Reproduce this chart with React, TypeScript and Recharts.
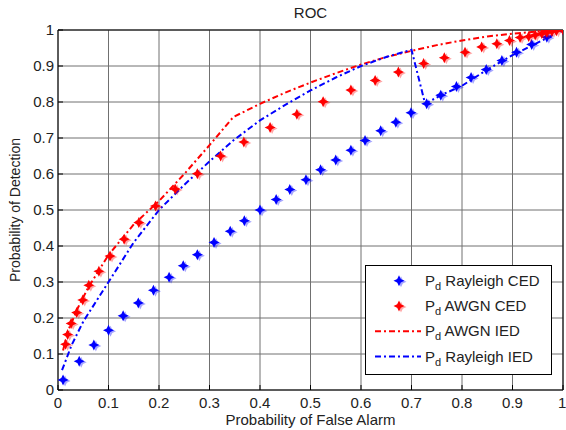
import React from 'react'
import {
  ComposedChart,
  Line,
  Scatter,
  XAxis,
  YAxis,
  CartesianGrid,
  ReferenceLine,
  Legend,
} from 'recharts'

const ticks = [0, 0.1, 0.2, 0.3, 0.4, 0.5, 0.6, 0.7, 0.8, 0.9, 1]
const tickLabels = ['0', '0.1', '0.2', '0.3', '0.4', '0.5', '0.6', '0.7', '0.8', '0.9', '1']

const rayleighCedX = [0.01, 0.042, 0.071, 0.1, 0.129, 0.159, 0.189, 0.22, 0.248, 0.276, 0.309, 0.341, 0.369, 0.4, 0.432, 0.459, 0.491, 0.52, 0.55, 0.58, 0.608, 0.639, 0.669, 0.699, 0.73, 0.758, 0.789, 0.818, 0.848, 0.879, 0.908, 0.938, 0.968, 1.0]
const rayleighCedY = [0.028, 0.08, 0.125, 0.166, 0.206, 0.242, 0.277, 0.313, 0.345, 0.376, 0.41, 0.441, 0.47, 0.5, 0.529, 0.557, 0.584, 0.612, 0.639, 0.666, 0.693, 0.72, 0.744, 0.77, 0.795, 0.819, 0.843, 0.868, 0.89, 0.915, 0.938, 0.96, 0.98, 1.0]

const awgnCedX = [0.015, 0.019, 0.026, 0.037, 0.049, 0.061, 0.081, 0.103, 0.131, 0.16, 0.193, 0.232, 0.276, 0.322, 0.368, 0.42, 0.473, 0.525, 0.58, 0.628, 0.674, 0.724, 0.765, 0.806, 0.839, 0.869, 0.894, 0.915, 0.932, 0.945, 0.958, 0.968, 0.978, 0.987, 1.0]
const awgnCedY = [0.127, 0.154, 0.185, 0.215, 0.25, 0.291, 0.33, 0.372, 0.419, 0.465, 0.511, 0.558, 0.601, 0.65, 0.689, 0.729, 0.766, 0.801, 0.833, 0.86, 0.883, 0.907, 0.923, 0.938, 0.953, 0.962, 0.971, 0.979, 0.982, 0.986, 0.99, 0.993, 0.996, 0.998, 1.0]

const awgnIedX = [0.01, 0.02, 0.04, 0.06, 0.08, 0.1, 0.15, 0.2, 0.25, 0.3, 0.347, 0.4, 0.45, 0.5, 0.55, 0.6, 0.65, 0.7, 0.75, 0.8, 0.85, 0.9, 0.95, 1]
const awgnIedY = [0.11, 0.165, 0.23, 0.285, 0.33, 0.375, 0.46, 0.525, 0.6, 0.68, 0.758, 0.795, 0.826, 0.854, 0.88, 0.904, 0.925, 0.942, 0.958, 0.971, 0.982, 0.99, 0.996, 1]

const rayleighIedX = [0.008, 0.027, 0.05, 0.1, 0.15, 0.2, 0.25, 0.3, 0.347, 0.4, 0.45, 0.5, 0.55, 0.6, 0.65, 0.7, 0.727, 0.76, 0.8, 0.85, 0.9, 0.95, 1]
const rayleighIedY = [0.055, 0.125, 0.19, 0.3, 0.41, 0.5, 0.57, 0.635, 0.693, 0.749, 0.792, 0.832, 0.868, 0.9, 0.925, 0.945, 0.795, 0.82, 0.845, 0.89, 0.93, 0.965, 1]

const zip = (xs: number[], ys: number[]) => xs.map((x, i) => ({ x, y: ys[i] }))

const rayleighCed = zip(rayleighCedX, rayleighCedY)
const awgnCed = zip(awgnCedX, awgnCedY)
const awgnIed = zip(awgnIedX, awgnIedY)
const rayleighIed = zip(rayleighIedX, rayleighIedY)

const FONT = '"Liberation Sans", Arial, sans-serif'
const BLUE = '#0000ff'
const RED = '#ff0000'
const DASH = '6 3 2 3'

const starPath = 'M0,-5.5 L1.8,-1.8 L5.5,0 L1.8,1.8 L0,5.5 L-1.8,1.8 L-5.5,0 L-1.8,-1.8 Z'

const Star = ({ cx, cy, color }: { cx: number; cy: number; color: string }) => (
  <g>
    <path d={starPath} transform={`translate(${cx + 2},${cy + 1})`} fill={color} opacity={0.35} />
    <path d={starPath} transform={`translate(${cx},${cy})`} fill={color} />
  </g>
)

const legendRows = [
  { name: 'Rayleigh CED', color: BLUE, kind: 'marker' },
  { name: 'AWGN CED', color: RED, kind: 'marker' },
  { name: 'AWGN IED', color: RED, kind: 'line' },
  { name: 'Rayleigh IED', color: BLUE, kind: 'line' },
]

const LegendBox = () => (
  <svg width={187} height={110} style={{ display: 'block' }}>
    <rect x={0.5} y={0.5} width={186} height={109} fill="#fff" stroke="#000" />
    {legendRows.map((r, i) => {
      const cy = 15.7 + i * 25.3
      return (
        <g key={r.name}>
          {r.kind === 'marker' ? (
            <Star cx={34} cy={cy} color={r.color} />
          ) : (
            <line x1={10} x2={56} y1={cy} y2={cy} stroke={r.color} strokeWidth={2} strokeDasharray={DASH} />
          )}
          <text x={60} y={cy + 5} fontFamily={FONT} fontSize={15} fill="#222">
            P
            <tspan fontSize={11} dy={4}>d</tspan>
            <tspan dy={-4}> {r.name}</tspan>
          </text>
        </g>
      )
    })}
  </svg>
)

const YLabel = (props: any) => {
  const vb = props.viewBox || {}
  const cx = 15
  const cy = vb.y + vb.height / 2
  return (
    <text x={cx} y={cy} transform={`rotate(-90,${cx},${cy})`} textAnchor="middle" dominantBaseline="central" fontFamily={FONT} fontSize={14} fill="#222">
      Probability of Detection
    </text>
  )
}

const XLabel = (props: any) => {
  const vb = props.viewBox || {}
  return (
    <text x={vb.x + vb.width / 2} y={425} textAnchor="middle" fontFamily={FONT} fontSize={15} fill="#222">
      Probability of False Alarm
    </text>
  )
}

const tickStyle = { fontFamily: FONT, fontSize: 15, fill: '#222' }

export default function App() {
  return (
    <div style={{ position: 'absolute', left: 0, top: 0, width: 566, height: 430, background: '#fff' }}>
      <div style={{ position: 'absolute', left: 58, width: 505, top: 4, textAlign: 'center', fontFamily: FONT, fontSize: 15, color: '#222' }}>
        ROC
      </div>
      <ComposedChart width={566} height={430} margin={{ top: 30, right: 3, bottom: 0, left: 0 }}>
        <CartesianGrid stroke="#707070" />
        <XAxis
          type="number"
          dataKey="x"
          domain={[0, 1]}
          ticks={ticks}
          tickFormatter={(v: number) => tickLabels[ticks.indexOf(v)] ?? String(v)}
          height={40}
          tick={tickStyle}
          tickSize={-5}
          tickMargin={12}
          stroke="#000"
          allowDataOverflow
          label={<XLabel />}
        />
        <YAxis
          type="number"
          dataKey="y"
          domain={[0, 1]}
          ticks={ticks}
          tickFormatter={(v: number) => tickLabels[ticks.indexOf(v)] ?? String(v)}
          width={58}
          tick={tickStyle}
          tickSize={-5}
          tickMargin={9}
          stroke="#000"
          allowDataOverflow
          label={<YLabel />}
        />
        <ReferenceLine y={1} stroke="#000" />
        <ReferenceLine x={1} stroke="#000" />
        <Scatter
          name="Rayleigh CED"
          data={rayleighCed}
          dataKey="y"
          isAnimationActive={false}
          shape={(p: any) => <Star cx={p.cx} cy={p.cy} color={BLUE} />}
        />
        <Scatter
          name="AWGN CED"
          data={awgnCed}
          dataKey="y"
          isAnimationActive={false}
          shape={(p: any) => <Star cx={p.cx} cy={p.cy} color={RED} />}
        />
        <Line
          name="AWGN IED"
          data={awgnIed}
          dataKey="y"
          type="linear"
          stroke={RED}
          strokeWidth={2}
          strokeDasharray={DASH}
          dot={false}
          activeDot={false}
          isAnimationActive={false}
        />
        <Line
          name="Rayleigh IED"
          data={rayleighIed}
          dataKey="y"
          type="linear"
          stroke={BLUE}
          strokeWidth={2}
          strokeDasharray={DASH}
          dot={false}
          activeDot={false}
          isAnimationActive={false}
        />
        <Legend
          layout="horizontal"
          align="center"
          verticalAlign="middle"
          content={() => <LegendBox />}
          wrapperStyle={{ position: 'absolute', left: 365, top: 265, width: 187, height: 110 }}
        />
      </ComposedChart>
    </div>
  )
}
